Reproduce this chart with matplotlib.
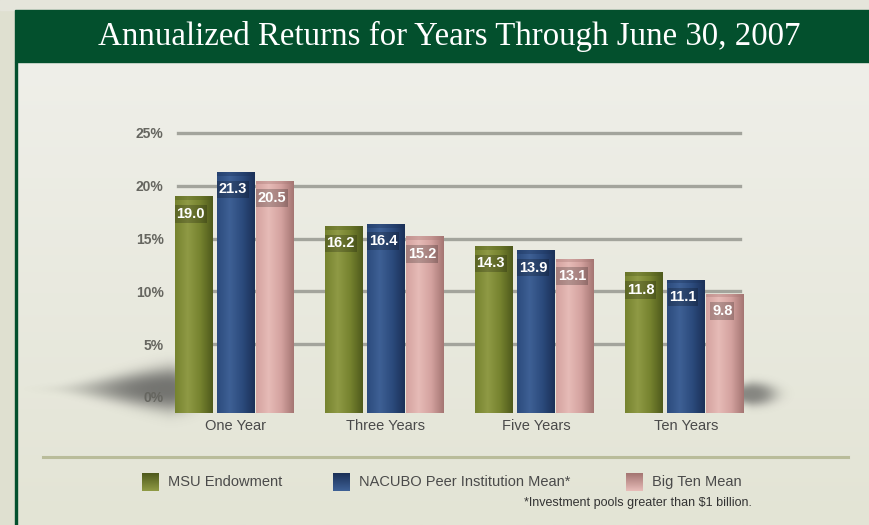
import matplotlib.pyplot as plt
import numpy as np
from matplotlib.patches import Rectangle
from matplotlib.colors import LinearSegmentedColormap

# dati
categorie = ["One Year", "Three Years", "Five Years", "Ten Years"]
serie = ["MSU Endowment", "NACUBO Peer Institution Mean*", "Big Ten Mean"]
msu = [19.0, 16.2, 14.3, 11.8]
nacubo = [21.3, 16.4, 13.9, 11.1]
bigten = [20.5, 15.2, 13.1, 9.8]
valori = [msu, nacubo, bigten]
yticks = [0, 5, 10, 15, 20, 25]

# colori: (scuro, medio, chiaro)
colori = [("#4f5a1c", "#76832f", "#8f9a45"),
          ("#1b3158", "#2c4b7d", "#3e6095"),
          ("#a57673", "#d4a29f", "#e6bbb7")]

W, H = 870, 525
fig = plt.figure(figsize=(W / 100, H / 100), dpi=100)
fig.patch.set_facecolor("#dfe0d0")

# sfondo in coordinate pixel
bg = fig.add_axes([0, 0, 1, 1], zorder=0)
bg.axis("off")

# pannello chiaro con sfumatura verticale
grad = np.linspace(0, 1, 256).reshape(-1, 1)
cmap_bg = LinearSegmentedColormap.from_list("bg", ["#efefe9", "#e3e4d5"])
bg.imshow(grad, cmap=cmap_bg, extent=[17, W, H, 62], aspect="auto", zorder=0)
bg.add_patch(Rectangle((0, 0), W, 10, color="#e5e5db", zorder=1))
bg.add_patch(Rectangle((15, 10), W - 15, 52, color="#03502d", zorder=2))
bg.add_patch(Rectangle((15, 62), 2.5, H - 62, color="#03502d", zorder=2))
bg.text(449, 36, "Annualized Returns for Years Through June 30, 2007",
        color="white", fontsize=23.7, family="Liberation Serif",
        ha="center", va="center", zorder=3)

# ombre sfumate (immagine rgba)
def ombra(x0, x1, y0, y1, cx, cy, sx_l, sx_r, sy, a):
    xs = np.linspace(x0, x1, 240)
    ys = np.linspace(y0, y1, 80)
    X, Y = np.meshgrid(xs, ys)
    sx = np.where(X < cx, sx_l, sx_r)
    # si assottiglia verso sinistra
    syv = sy * np.clip(1 - (cx - X) / (2.0 * sx_l), 0.3, 1)
    d = ((X - cx) / sx) ** 2 + ((Y - cy) / syv) ** 2
    rgba = np.zeros((len(ys), len(xs), 4))
    rgba[..., :3] = 0.28
    rgba[..., 3] = a * np.exp(-d ** 1.4)
    bg.imshow(rgba, extent=[x0, x1, y1, y0], aspect="auto", zorder=1,
              interpolation="bilinear")

ombra(20, 200, 340, 430, 168, 389, 80, 30, 22, 0.72)
ombra(720, 810, 370, 420, 752, 394, 32, 24, 12, 0.6)

# linea sopra la legenda
bg.plot([43, 848], [457, 457], color="#b9bc9a", lw=2.2, zorder=2)

# legenda
leg_x = [142, 333, 626]
for i, nome in enumerate(serie):
    sw = np.linspace(0, 1, 20).reshape(-1, 1)
    cm = LinearSegmentedColormap.from_list("s%d" % i, [colori[i][0], colori[i][2]])
    bg.imshow(sw, cmap=cm, extent=[leg_x[i], leg_x[i] + 17, 491, 473],
              aspect="auto", zorder=3)
    bg.text(leg_x[i] + 26, 482, nome, fontsize=10.5, color="#4a4a4a",
            family="Liberation Sans", ha="left", va="center", zorder=3)

bg.text(752, 503, "*Investment pools greater than $1 billion.", fontsize=9,
        color="#333333", family="Liberation Sans",
        ha="right", va="center", zorder=3)
bg.set_xlim(0, W)
bg.set_ylim(H, 0)

# grafico
ax_l, ax_r, ax_t, ax_b = 165, 760, 125, 416
ax = fig.add_axes([ax_l / W, 1 - ax_b / H, (ax_r - ax_l) / W, (ax_b - ax_t) / H],
                  zorder=2)
ax.patch.set_alpha(0)
passo = 150.0
x = np.arange(len(categorie))
y0 = 397
scala = (397 - 133) / 25.0
ax.set_ylim(-(ax_b - y0) / scala, (y0 - ax_t) / scala)

g0 = (178 - ax_l) / (ax_r - ax_l)
g1 = (740 - ax_l) / (ax_r - ax_l)
for t in yticks[1:]:
    ax.axhline(t, g0, g1, color="#a3a49c", lw=2.4, zorder=1)

larg = 0.253
offs = [-0.282, 0.0, 0.262]
base = -(413 - y0) / scala
hgrad = np.linspace(0, 1, 64).reshape(1, -1)
for i in range(3):
    cm = LinearSegmentedColormap.from_list(
        "b%d" % i, [colori[i][1], colori[i][2], colori[i][1], colori[i][0]])
    bars = ax.bar(x + offs[i], np.array(valori[i]) - base, larg, bottom=base,
                  color=colori[i][1], zorder=3, lw=0)
    for b, v in zip(bars, valori[i]):
        im = ax.imshow(hgrad, cmap=cm, aspect="auto", zorder=3,
                       extent=[b.get_x(), b.get_x() + b.get_width(), base, v])
        im.set_clip_path(b)
        ax.add_patch(Rectangle((b.get_x(), v - 0.35), b.get_width(), 0.35,
                               color=colori[i][0], alpha=0.35, lw=0, zorder=4))
        ax.text(b.get_x() + b.get_width() / 2 - 0.02, v - 1.65, "%.1f" % v,
                color="white", fontsize=10.5, fontweight="bold",
                family="Liberation Sans", ha="center", va="center", zorder=5,
                bbox=dict(boxstyle="square,pad=0.12", fc="black", alpha=0.22, lw=0))
ax.set_xlim((ax_l - 236) / passo, (ax_r - 236) / passo)

ax.set_yticks(yticks)
ax.set_yticklabels(["%d%%" % t for t in yticks], fontsize=10, fontweight="bold",
                   color="#666660", family="Liberation Sans")
ax.set_xticks(x)
ax.set_xticklabels(categorie, fontsize=10.5, color="#4a4a4a",
                   family="Liberation Sans")
ax.tick_params(length=0, axis="y", pad=1)
ax.tick_params(length=0, axis="x", pad=2)
for s in ax.spines.values():
    s.set_visible(False)

fig.savefig("out.png", dpi=100, facecolor=fig.get_facecolor())
